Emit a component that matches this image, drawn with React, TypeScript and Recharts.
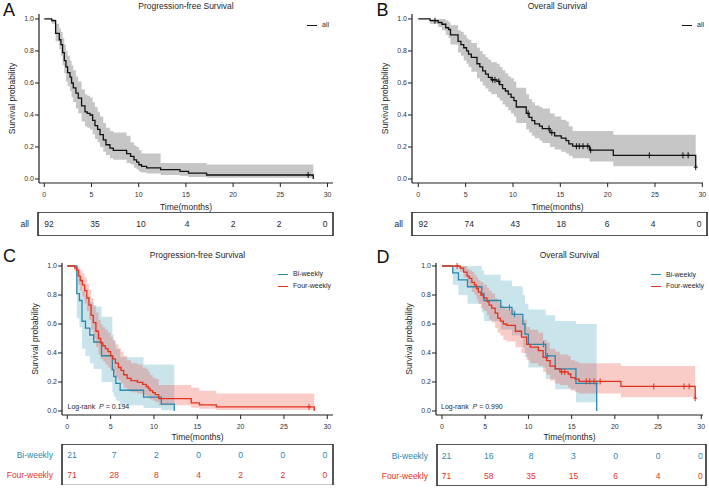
import React from "react";
import {
  ComposedChart,
  Area,
  Line,
  Scatter,
  XAxis,
  YAxis,
  Label,
  ReferenceArea,
} from "recharts";

const TEAL = "#2a88ad";
const RED = "#e3321e";
const INK = "#1f1f1f";
const FONT = '"Liberation Sans", Arial, Helvetica, sans-serif';

const monthTicks = [0, 5, 10, 15, 20, 25, 30];
const probTicks = [0, 0.2, 0.4, 0.6, 0.8, 1];

// ---- A: progression-free survival, all patients
const pfsAllTime = [0, 0.78, 1.2, 1.59, 1.76, 1.94, 2.12, 2.29, 2.47, 2.72, 2.89, 3.07, 3.35, 3.6, 3.95, 4.31, 4.55, 4.84, 5.12, 5.37, 5.65, 5.9, 6.25, 6.53, 6.95, 7.31, 8.72, 9.14, 9.5, 9.78, 10.02, 10.3, 10.84, 12.32, 14.37, 15.28, 17.19, 28.49];
const pfsAllSurv = [1, 0.99, 0.91, 0.87, 0.84, 0.79, 0.74, 0.7, 0.665, 0.636, 0.6, 0.57, 0.536, 0.505, 0.457, 0.42, 0.41, 0.4, 0.366, 0.333, 0.31, 0.277, 0.245, 0.214, 0.193, 0.179, 0.158, 0.141, 0.12, 0.106, 0.089, 0.079, 0.07, 0.058, 0.048, 0.037, 0.025, 0];
const pfsAllLower = [1, 0.97, 0.86, 0.81, 0.77, 0.71, 0.66, 0.61, 0.58, 0.55, 0.51, 0.48, 0.44, 0.41, 0.36, 0.33, 0.32, 0.31, 0.28, 0.25, 0.23, 0.2, 0.17, 0.15, 0.13, 0.12, 0.1, 0.09, 0.07, 0.06, 0.045, 0.04, 0.035, 0.025, 0.02, 0.012, 0.008, 0.008];
const pfsAllUpper = [1, 1, 0.97, 0.94, 0.92, 0.88, 0.84, 0.8, 0.77, 0.74, 0.71, 0.68, 0.64, 0.61, 0.56, 0.53, 0.52, 0.51, 0.48, 0.45, 0.42, 0.39, 0.35, 0.32, 0.3, 0.29, 0.27, 0.23, 0.21, 0.2, 0.18, 0.16, 0.16, 0.1, 0.1, 0.1, 0.09, 0.09];
const pfsAllCensored = [27.95];
const pfsAllAtRisk = [92, 35, 10, 4, 2, 2, 0];

// ---- B: overall survival, all patients
const osAllTime = [0, 1.24, 2.1, 2.5, 2.9, 3.2, 3.4, 4.2, 4.5, 4.8, 5.1, 5.3, 5.6, 6.2, 6.5, 6.8, 7.1, 7.4, 7.7, 8.3, 8.6, 8.9, 9.2, 9.5, 9.8, 10.1, 10.35, 11.4, 11.7, 12.0, 12.3, 12.8, 13.1, 13.9, 14.4, 15.1, 15.6, 15.9, 16.3, 18.1, 20.6, 29.3];
const osAllSurv = [1, 0.989, 0.978, 0.967, 0.945, 0.934, 0.9, 0.86, 0.84, 0.82, 0.8, 0.78, 0.76, 0.72, 0.7, 0.675, 0.655, 0.635, 0.62, 0.61, 0.59, 0.565, 0.55, 0.53, 0.51, 0.49, 0.45, 0.41, 0.385, 0.365, 0.345, 0.33, 0.315, 0.29, 0.27, 0.255, 0.24, 0.22, 0.205, 0.18, 0.148, 0.074];
const osAllLower = [1, 0.97, 0.95, 0.93, 0.9, 0.88, 0.84, 0.79, 0.77, 0.74, 0.72, 0.7, 0.67, 0.63, 0.61, 0.585, 0.565, 0.545, 0.53, 0.51, 0.49, 0.465, 0.45, 0.43, 0.41, 0.39, 0.35, 0.31, 0.29, 0.27, 0.255, 0.24, 0.225, 0.2, 0.185, 0.17, 0.16, 0.145, 0.13, 0.11, 0.08, 0.08];
const osAllUpper = [1, 1, 1, 1, 0.99, 0.98, 0.96, 0.93, 0.92, 0.9, 0.88, 0.87, 0.85, 0.82, 0.8, 0.78, 0.76, 0.745, 0.73, 0.72, 0.7, 0.68, 0.66, 0.64, 0.63, 0.61, 0.57, 0.53, 0.5, 0.48, 0.46, 0.45, 0.44, 0.41, 0.39, 0.37, 0.36, 0.33, 0.3, 0.3, 0.277, 0.277];
const osAllCensored = [1.76, 7.85, 8.1, 8.5, 11.6, 13.8, 14.1, 16.7, 17.0, 17.4, 17.9, 18.2, 24.4, 27.95, 28.5, 29.3];
const osAllAtRisk = [92, 74, 43, 18, 6, 4, 0];

// ---- C: progression-free survival by schedule
const pfsBiTime = [0, 1.1, 1.4, 1.7, 2.1, 2.6, 3.05, 3.95, 5.2, 5.35, 5.6, 6.1, 8.8, 10.85, 12.35];
const pfsBiSurv = [1, 0.81, 0.762, 0.619, 0.571, 0.524, 0.476, 0.381, 0.286, 0.238, 0.19, 0.143, 0.095, 0.048, 0];
const pfsBiLower = [1, 0.64, 0.58, 0.43, 0.38, 0.33, 0.29, 0.2, 0.13, 0.1, 0.07, 0.04, 0.02, 0.005, 0.005];
const pfsBiUpper = [1, 0.96, 0.93, 0.83, 0.79, 0.75, 0.72, 0.65, 0.53, 0.48, 0.43, 0.37, 0.32, 0.32, 0.32];
const pfsBiCensored: number[] = [];
const pfsBiAtRisk = [21, 7, 2, 0, 0, 0, 0];

const pfsFourTime = [0, 0.85, 1.1, 1.3, 1.5, 1.75, 2.0, 2.25, 2.5, 2.75, 3.0, 3.3, 3.6, 3.85, 4.1, 4.4, 4.7, 5.0, 5.25, 5.55, 5.9, 6.2, 6.5, 6.9, 7.35, 8.1, 8.7, 9.1, 9.35, 9.55, 9.85, 10.15, 10.55, 14.3, 15.25, 17.2, 28.5];
const pfsFourSurv = [1, 0.986, 0.972, 0.93, 0.9, 0.87, 0.83, 0.78, 0.73, 0.66, 0.61, 0.55, 0.5, 0.47, 0.45, 0.43, 0.41, 0.38, 0.36, 0.33, 0.3, 0.28, 0.25, 0.225, 0.21, 0.197, 0.183, 0.169, 0.155, 0.141, 0.127, 0.113, 0.085, 0.056, 0.042, 0.028, 0];
const pfsFourLower = [1, 0.96, 0.93, 0.87, 0.83, 0.79, 0.74, 0.69, 0.63, 0.56, 0.5, 0.44, 0.39, 0.36, 0.34, 0.32, 0.3, 0.28, 0.26, 0.23, 0.21, 0.19, 0.16, 0.14, 0.13, 0.12, 0.11, 0.1, 0.09, 0.08, 0.07, 0.06, 0.04, 0.022, 0.015, 0.007, 0.007];
const pfsFourUpper = [1, 1, 1, 0.99, 0.97, 0.95, 0.92, 0.88, 0.84, 0.78, 0.73, 0.68, 0.63, 0.6, 0.58, 0.56, 0.54, 0.51, 0.49, 0.46, 0.43, 0.41, 0.38, 0.35, 0.33, 0.32, 0.3, 0.29, 0.27, 0.25, 0.23, 0.22, 0.18, 0.16, 0.14, 0.12, 0.12];
const pfsFourCensored = [27.9];
const pfsFourAtRisk = [71, 28, 8, 4, 2, 2, 0];

// ---- D: overall survival by schedule
const osBiTime = [0, 1.25, 1.9, 2.95, 4.6, 4.85, 6.8, 8.1, 9.35, 9.6, 10.0, 12.0, 13.1, 15.5, 17.9];
const osBiSurv = [1, 0.952, 0.905, 0.857, 0.81, 0.762, 0.714, 0.667, 0.6, 0.53, 0.46, 0.38, 0.29, 0.19, 0];
const osBiLower = [1, 0.87, 0.8, 0.74, 0.68, 0.62, 0.56, 0.52, 0.44, 0.37, 0.3, 0.22, 0.15, 0.06, 0.06];
const osBiUpper = [1, 1, 1, 1, 0.97, 0.94, 0.9, 0.86, 0.8, 0.74, 0.7, 0.66, 0.62, 0.6, 0.6];
const osBiCensored = [7.8, 8.4, 11.75, 12.2, 17.85];
const osBiAtRisk = [21, 16, 8, 3, 0, 0, 0];

const osFourTime = [0, 2.1, 2.5, 2.9, 3.15, 3.45, 3.75, 4.0, 4.2, 4.5, 4.8, 5.2, 5.45, 5.75, 6.15, 6.45, 6.75, 7.1, 7.5, 8.5, 9.2, 9.8, 10.2, 11.15, 11.7, 12.1, 12.5, 13.1, 13.65, 14.6, 14.9, 15.4, 15.85, 20.7, 29.3];
const osFourSurv = [1, 0.986, 0.958, 0.93, 0.915, 0.887, 0.87, 0.845, 0.82, 0.8, 0.78, 0.755, 0.73, 0.71, 0.675, 0.64, 0.62, 0.6, 0.59, 0.55, 0.51, 0.46, 0.44, 0.417, 0.37, 0.347, 0.31, 0.29, 0.27, 0.255, 0.23, 0.22, 0.204, 0.17, 0.088];
const osFourLower = [1, 0.96, 0.92, 0.88, 0.86, 0.82, 0.8, 0.77, 0.74, 0.71, 0.69, 0.66, 0.63, 0.61, 0.57, 0.54, 0.52, 0.49, 0.48, 0.44, 0.4, 0.35, 0.33, 0.31, 0.27, 0.25, 0.21, 0.19, 0.18, 0.16, 0.14, 0.13, 0.12, 0.095, 0.095];
const osFourUpper = [1, 1, 1, 0.98, 0.97, 0.96, 0.94, 0.92, 0.9, 0.89, 0.87, 0.85, 0.83, 0.81, 0.78, 0.75, 0.73, 0.71, 0.7, 0.66, 0.63, 0.58, 0.56, 0.54, 0.49, 0.47, 0.43, 0.41, 0.39, 0.38, 0.35, 0.34, 0.33, 0.31, 0.31];
const osFourCensored = [1.75, 13.85, 14.2, 16.7, 17.1, 17.6, 18.3, 24.5, 28.0, 28.6, 29.3];
const osFourAtRisk = [71, 58, 35, 15, 6, 4, 0];

type Step = { t: number; s: number; band: [number, number] };
type Mark = { t: number; s: number };

interface Curve {
  id: string;
  color: string;
  fill: string;
  fillOpacity: number;
  steps: Step[];
  censor: Mark[];
}

const buildSteps = (time: number[], surv: number[], lower: number[], upper: number[]): Step[] =>
  time.map((t, i) => ({ t, s: surv[i], band: [lower[i], upper[i]] }));

// survival level of the step function at a given time (for censor ticks)
const levelAt = (time: number[], surv: number[], at: number) => {
  let idx = 0;
  time.forEach((t, i) => {
    if (t <= at) idx = i;
  });
  return surv[idx];
};

const buildCensor = (time: number[], surv: number[], marks: number[]): Mark[] =>
  marks.map((t) => ({ t, s: levelAt(time, surv, t) }));

const makeCurve = (
  id: string,
  color: string,
  fill: string,
  fillOpacity: number,
  time: number[],
  surv: number[],
  lower: number[],
  upper: number[],
  censored: number[]
): Curve => ({
  id,
  color,
  fill,
  fillOpacity,
  steps: buildSteps(time, surv, lower, upper),
  censor: buildCensor(time, surv, censored),
});

const crossShape = (color: string) => (props: any) => {
  const { cx, cy } = props;
  if (cx == null || cy == null) return <g />;
  return (
    <g>
      <line x1={cx} x2={cx} y1={cy - 3} y2={cy + 3} stroke={color} strokeWidth={1} />
      <line x1={cx - 2} x2={cx + 2} y1={cy} y2={cy} stroke={color} strokeWidth={1} />
    </g>
  );
};

interface PlotBox {
  left: number;
  top: number;
  width: number;
  height: number;
  right: number;
  yAxisWidth: number;
  xAxisHeight: number;
  xDomain: [number, number];
  yDomain: [number, number];
  yLabelOffset: number;
  xLabelOffset: number;
}

function KMPlot({ box, curves }: { box: PlotBox; curves: Curve[] }) {
  return (
    <div style={{ position: "absolute", left: box.left, top: box.top }}>
      <ComposedChart
        width={box.width}
        height={box.height}
        margin={{ top: 14, right: box.right, bottom: 0, left: 0 }}
      >
        <XAxis
          type="number"
          dataKey="t"
          domain={box.xDomain}
          ticks={monthTicks}
          interval={0}
          allowDataOverflow
          height={box.xAxisHeight}
          tickSize={4}
          tickMargin={5}
          stroke={INK}
          axisLine={{ stroke: INK, strokeWidth: 1.2 }}
          tickLine={{ stroke: INK }}
          tick={{ fontSize: 7, fill: "#333" }}
        >
          <Label
            value="Time(months)"
            position="insideBottom"
            offset={box.xLabelOffset}
            style={{ fontSize: 8.5, fill: INK }}
          />
        </XAxis>
        <YAxis
          type="number"
          domain={box.yDomain}
          ticks={probTicks}
          interval={0}
          allowDataOverflow
          width={box.yAxisWidth}
          tickSize={4}
          tickMargin={1}
          stroke={INK}
          axisLine={{ stroke: INK, strokeWidth: 1.2 }}
          tickLine={{ stroke: INK }}
          tickFormatter={(v: number) => v.toFixed(1)}
          tick={{ fontSize: 7, fill: "#333" }}
        >
          <Label
            value="Survival probability"
            angle={-90}
            position="insideLeft"
            offset={box.yLabelOffset}
            style={{ fontSize: 8.5, fill: INK, textAnchor: "middle" }}
          />
        </YAxis>
        {curves.map((c) => (
          <Area
            key={c.id + "-band"}
            data={c.steps}
            dataKey="band"
            type="stepAfter"
            stroke="none"
            fill={c.fill}
            fillOpacity={c.fillOpacity}
            activeDot={false}
            legendType="none"
            isAnimationActive={false}
          />
        ))}
        {curves.map((c) => (
          <Line
            key={c.id + "-line"}
            data={c.steps}
            dataKey="s"
            type="stepAfter"
            stroke={c.color}
            strokeWidth={1.3}
            dot={false}
            activeDot={false}
            isAnimationActive={false}
          />
        ))}
        {curves.map((c) => (
          <Scatter
            key={c.id + "-censor"}
            data={c.censor}
            dataKey="s"
            shape={crossShape(c.color)}
            legendType="none"
            isAnimationActive={false}
          />
        ))}
      </ComposedChart>
    </div>
  );
}

interface RiskRow {
  label: string;
  color: string;
  counts: number[];
  level: number;
}

interface TableBox {
  left: number;
  top: number;
  width: number;
  height: number;
  right: number;
  yAxisWidth: number;
  xDomain: [number, number];
}

// short dash sitting just outside the box's left edge, one per row
const rowDash = (props: any) => {
  const { cx, cy } = props;
  if (cx == null || cy == null) return <g />;
  return <rect x={cx - 6} y={cy - 0.7} width={6} height={1.4} fill={INK} />;
};

function RiskTable({ box, rows }: { box: TableBox; rows: RiskRow[] }) {
  const yMax = rows.length;
  return (
    <div style={{ position: "absolute", left: box.left, top: box.top }}>
      <ComposedChart
        width={box.width}
        height={box.height}
        margin={{ top: 0, right: box.right, bottom: 0, left: 0 }}
      >
        <XAxis type="number" dataKey="t" domain={box.xDomain} hide allowDataOverflow />
        <YAxis
          type="number"
          domain={[0, yMax]}
          ticks={rows.map((r) => r.level)}
          interval={0}
          width={box.yAxisWidth}
          axisLine={false}
          tickLine={false}
          tick={(p: any) => {
            const row = rows.find((r) => r.level === p.payload.value);
            return (
              <text
                x={box.yAxisWidth - 9}
                y={p.y}
                textAnchor="end"
                dominantBaseline="central"
                fontSize={8.5}
                fill={row ? row.color : INK}
              >
                {row ? row.label : ""}
              </text>
            );
          }}
        />
        <ReferenceArea
          x1={box.xDomain[0]}
          x2={box.xDomain[1]}
          y1={0}
          y2={yMax}
          fill="none"
          stroke={INK}
          strokeWidth={1.5}
          ifOverflow="visible"
        />
        <Scatter
          data={rows.map((r) => ({ t: box.xDomain[0], level: r.level }))}
          dataKey="level"
          shape={rowDash}
          legendType="none"
          isAnimationActive={false}
        />
        {rows.map((r) => (
          <Scatter
            key={r.label}
            data={monthTicks.map((t, i) => ({ t, level: r.level, n: r.counts[i] }))}
            dataKey="level"
            legendType="none"
            isAnimationActive={false}
            shape={(p: any) => (
              <text
                x={p.cx}
                y={p.cy}
                textAnchor="middle"
                dominantBaseline="central"
                fontSize={8.5}
                fill={r.color}
              >
                {p.payload.n}
              </text>
            )}
          />
        ))}
      </ComposedChart>
    </div>
  );
}

function KeyList({ left, top, items }: { left: number; top: number; items: { label: string; color: string }[] }) {
  return (
    <div style={{ position: "absolute", left, top, fontSize: 7, color: INK }}>
      {items.map((it) => (
        <div key={it.label} style={{ display: "flex", alignItems: "center", height: 11.7 }}>
          <span style={{ width: 10, height: 0, borderTop: `1.4px solid ${it.color}`, marginRight: 5 }} />
          <span style={{ lineHeight: "8px", whiteSpace: "nowrap" }}>{it.label}</span>
        </div>
      ))}
    </div>
  );
}

function Caption({ left, top, width, text }: { left: number; top: number; width: number; text: string }) {
  return (
    <div
      style={{
        position: "absolute",
        left,
        top,
        width,
        textAlign: "center",
        fontSize: 8.5,
        lineHeight: "10px",
        color: INK,
        whiteSpace: "nowrap",
      }}
    >
      {text}
    </div>
  );
}

function PanelTag({ left, top, text }: { left: number; top: number; text: string }) {
  return (
    <div style={{ position: "absolute", left, top, fontSize: 18, lineHeight: "18px", color: "#111" }}>
      {text}
    </div>
  );
}

function LogRank({ left, top, p }: { left: number; top: number; p: string }) {
  return (
    <div style={{ position: "absolute", left, top, fontSize: 7, lineHeight: "10px", color: INK, whiteSpace: "pre" }}>
      {"Log-rank  "}
      <i>P</i>
      {" = " + p}
    </div>
  );
}

const GRAY_FILL = "#c6c6c6";

const curvesA = [makeCurve("pfs-all", "#111", GRAY_FILL, 1, pfsAllTime, pfsAllSurv, pfsAllLower, pfsAllUpper, pfsAllCensored)];
const curvesB = [makeCurve("os-all", "#111", GRAY_FILL, 1, osAllTime, osAllSurv, osAllLower, osAllUpper, osAllCensored)];
const curvesC = [
  makeCurve("pfs-bi", TEAL, "#4ea5bf", 0.3, pfsBiTime, pfsBiSurv, pfsBiLower, pfsBiUpper, pfsBiCensored),
  makeCurve("pfs-four", RED, "#e8473a", 0.28, pfsFourTime, pfsFourSurv, pfsFourLower, pfsFourUpper, pfsFourCensored),
];
const curvesD = [
  makeCurve("os-bi", TEAL, "#4ea5bf", 0.3, osBiTime, osBiSurv, osBiLower, osBiUpper, osBiCensored),
  makeCurve("os-four", RED, "#e8473a", 0.28, osFourTime, osFourSurv, osFourLower, osFourUpper, osFourCensored),
];

const topY: [number, number] = [-0.025, 1.031];
const bottomY: [number, number] = [-0.0276, 1.0207];

export default function App() {
  return (
    <div
      style={{
        position: "absolute",
        left: 0,
        top: 0,
        width: 709,
        height: 488,
        background: "#fff",
        fontFamily: FONT,
        overflow: "hidden",
      }}
    >
      {/* A */}
      <PanelTag left={3} top={1} text="A" />
      <Caption left={39} top={1} width={294} text="Progression-free Survival" />
      <KMPlot
        box={{
          left: 0, top: 0, width: 340, height: 214, right: 7,
          yAxisWidth: 39, xAxisHeight: 31,
          xDomain: [-0.56, 30.58], yDomain: topY,
          yLabelOffset: 12, xLabelOffset: 4.5,
        }}
        curves={curvesA}
      />
      <KeyList left={307} top={19.5} items={[{ label: "all", color: "#111" }]} />
      <RiskTable
        box={{ left: 0, top: 212, width: 340, height: 24, right: 7, yAxisWidth: 38, xDomain: [-1.2, 30.87] }}
        rows={[{ label: "all", color: INK, counts: pfsAllAtRisk, level: 0.5 }]}
      />

      {/* B */}
      <PanelTag left={376.5} top={1} text="B" />
      <Caption left={412} top={1} width={291} text="Overall Survival" />
      <KMPlot
        box={{
          left: 373, top: 0, width: 336, height: 214, right: 6,
          yAxisWidth: 39, xAxisHeight: 31,
          xDomain: [-0.665, 30.07], yDomain: topY,
          yLabelOffset: 11.5, xLabelOffset: 4.5,
        }}
        curves={curvesB}
      />
      <KeyList left={682} top={19.2} items={[{ label: "all", color: "#111" }]} />
      <RiskTable
        box={{ left: 373, top: 212, width: 336, height: 24, right: 2, yAxisWidth: 39, xDomain: [-1.23, 30.87] }}
        rows={[{ label: "all", color: INK, counts: osAllAtRisk, level: 0.5 }]}
      />

      {/* C */}
      <PanelTag left={3} top={247} text="C" />
      <Caption left={62} top={249.5} width={271} text="Progression-free Survival" />
      <KMPlot
        box={{
          left: 22, top: 249, width: 318, height: 195, right: 7,
          yAxisWidth: 40, xAxisHeight: 29,
          xDomain: [-0.61, 30.66], yDomain: bottomY,
          yLabelOffset: 13, xLabelOffset: 4.5,
        }}
        curves={curvesC}
      />
      <KeyList
        left={278}
        top={268.5}
        items={[
          { label: "Bi-weekly", color: TEAL },
          { label: "Four-weekly", color: RED },
        ]}
      />
      <LogRank left={67.5} top={402.3} p="0.194" />
      <RiskTable
        box={{ left: 0, top: 443.5, width: 340, height: 41.5, right: 7, yAxisWidth: 62, xDomain: [-1.19, 30.95] }}
        rows={[
          { label: "Bi-weekly", color: TEAL, counts: pfsBiAtRisk, level: 1.45 },
          { label: "Four-weekly", color: RED, counts: pfsFourAtRisk, level: 0.5 },
        ]}
      />

      {/* D */}
      <PanelTag left={376.5} top={248} text="D" />
      <Caption left={436} top={249.5} width={267} text="Overall Survival" />
      <KMPlot
        box={{
          left: 397, top: 249, width: 312, height: 195, right: 6,
          yAxisWidth: 39, xAxisHeight: 29,
          xDomain: [-0.694, 30.2], yDomain: bottomY,
          yLabelOffset: 11.7, xLabelOffset: 4.5,
        }}
        curves={curvesD}
      />
      <KeyList
        left={651}
        top={268.8}
        items={[
          { label: "Bi-weekly", color: TEAL },
          { label: "Four-weekly", color: RED },
        ]}
      />
      <LogRank left={441} top={402} p="0.990" />
      <RiskTable
        box={{ left: 373, top: 443.5, width: 336, height: 42, right: 3, yAxisWidth: 64, xDomain: [-1.12, 30.67] }}
        rows={[
          { label: "Bi-weekly", color: TEAL, counts: osBiAtRisk, level: 1.45 },
          { label: "Four-weekly", color: RED, counts: osFourAtRisk, level: 0.5 },
        ]}
      />
    </div>
  );
}
